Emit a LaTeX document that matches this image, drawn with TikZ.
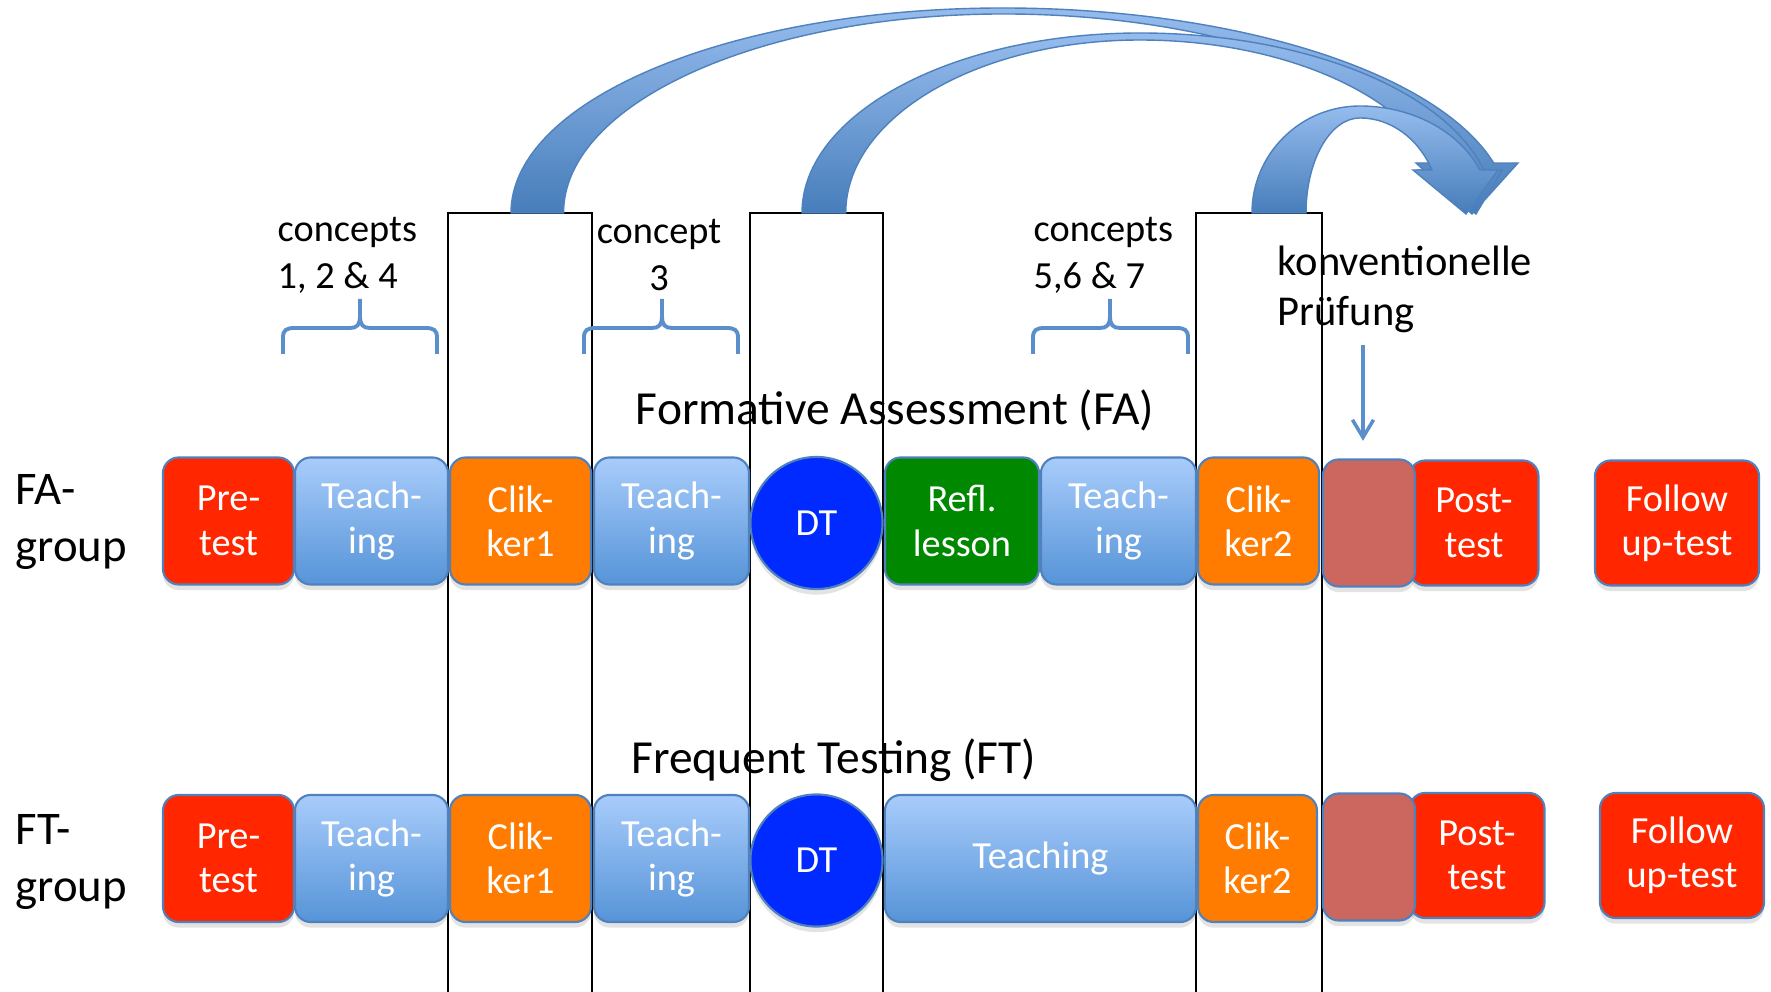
\documentclass[tikz,border=0pt]{standalone}
\usepackage{fontspec}
\setmainfont{Carlito}
\usetikzlibrary{arrows.meta,shadows}

\definecolor{pptred}{RGB}{255,38,0}
\definecolor{pptorange}{RGB}{255,124,0}
\definecolor{pptgreen}{RGB}{0,136,0}
\definecolor{pptdt}{RGB}{0,42,255}
\definecolor{pptbrown}{RGB}{204,103,96}
\definecolor{pptline}{RGB}{79,129,189}
\definecolor{teachtop}{RGB}{168,204,251}
\definecolor{teachbot}{RGB}{86,148,216}
\definecolor{arctop}{RGB}{150,188,238}
\definecolor{arcbot}{RGB}{70,125,186}
\definecolor{bracecol}{RGB}{91,143,201}

\begin{document}
\begin{tikzpicture}[x=0.01cm, y=-0.01cm,
    box/.style={draw=pptline, line width=0.6pt, rounded corners=4.5pt,
        minimum height=1.27cm, inner sep=1pt, text=white, align=center,
        font=\fontsize{10.9}{12.6}\selectfont,
        drop shadow={shadow xshift=0pt, shadow yshift=-1.6pt, opacity=0.22}},
    redbox/.style={box, fill=pptred},
    clikbox/.style={box, fill=pptorange},
    reflbox/.style={box, fill=pptgreen},
    brownbox/.style={box, fill=pptbrown},
    teachbox/.style={box, top color=teachtop, bottom color=teachbot},
    dtnode/.style={box, circle, fill=pptdt, minimum size=1.32cm},
    grouplabel/.style={anchor=west, align=left, inner sep=0pt,
        font=\fontsize{13.3}{16.2}\selectfont},
    phase/.style={inner sep=0pt, font=\fontsize{13.5}{16}\selectfont},
    concepts/.style={inner sep=0pt, font=\fontsize{10.9}{13.3}\selectfont},
    frame/.style={draw=black, line width=0.5pt},
    brace/.style={draw=bracecol, line width=1.1pt},
    bigarc/.style={draw=pptline, line width=0.4pt, top color=arctop, bottom color=arcbot},
    smallarrow/.style={draw=bracecol, line width=1pt, -{Straight Barb[length=5pt,width=6pt]}}
]
    \useasboundingbox (0,0) rectangle (1771,992);

    % clicker / DT columns
    \draw[frame] (448,992) |- (592,213) -- (592,992);
    \draw[frame] (750,992) |- (883,213) -- (883,992);
    \draw[frame] (1196,992) |- (1322,213) -- (1322,992);

    % curved arrows to the exam
    \path[bigarc] (511,213) arc[start angle=180, end angle=270, x radius=492, y radius=205]
        arc[start angle=270, end angle=345.9, x radius=506, y radius=205]
        -- (1518,163) -- (1472,214) -- (1416,163) -- (1442,163)
        arc[start angle=345.45, end angle=270, x radius=453, y radius=199]
        arc[start angle=270, end angle=180, x radius=440, y radius=199] -- cycle;
    \path[bigarc] (802,213) arc[start angle=180, end angle=270, x radius=338, y radius=180]
        arc[start angle=270, end angle=346.2, x radius=354, y radius=180]
        -- (1502,170) -- (1476,214) -- (1418,170) -- (1440,170)
        arc[start angle=345.6, end angle=270, x radius=310, y radius=173]
        arc[start angle=270, end angle=180, x radius=294, y radius=173] -- cycle;
    \path[bigarc] (1252,213) arc[start angle=180, end angle=270, x radius=108, y radius=107]
        arc[start angle=270, end angle=336.3, x radius=131, y radius=107]
        -- (1498,170) -- (1466,214) -- (1413,170) -- (1432,170)
        arc[start angle=333.1, end angle=270, x radius=80.7, y radius=95]
        arc[start angle=270, end angle=180, x radius=54, y radius=95] -- cycle;

    % braces
    \draw[brace] (283,354) -- (283,338) .. controls (283,330) and (286,328) .. (295,328) -- (350,328) .. controls (357,328) and (360,325) .. (360,316) -- (360,299);
    \draw[brace] (437,354) -- (437,338) .. controls (437,330) and (434,328) .. (425,328) -- (370,328) .. controls (363,328) and (360,325) .. (360,316);
    \draw[brace] (584,354) -- (584,338) .. controls (584,330) and (587,328) .. (596,328) -- (652,328) .. controls (659,328) and (662,325) .. (662,316) -- (662,299);
    \draw[brace] (738,354) -- (738,338) .. controls (738,330) and (735,328) .. (726,328) -- (672,328) .. controls (665,328) and (662,325) .. (662,316);
    \draw[brace] (1033,354) -- (1033,338) .. controls (1033,330) and (1036,328) .. (1045,328) -- (1100,328) .. controls (1107,328) and (1110,325) .. (1110,316) -- (1110,299);
    \draw[brace] (1188,354) -- (1188,338) .. controls (1188,330) and (1185,328) .. (1176,328) -- (1120,328) .. controls (1113,328) and (1110,325) .. (1110,316);

    \node[concepts, anchor=west, align=left] (c124) at (277,255) {concepts\\1, 2 \& 4};
    \node[concepts, align=center] (c3) at (659,255) {concept\\3};
    \node[concepts, anchor=west, align=left] (c567) at (1033,255) {concepts\\5,6 \& 7};
    \node[anchor=west, align=left, inner sep=0pt, font=\fontsize{12.1}{14.2}\selectfont] (konv) at (1277,289) {konventionelle\\Prüfung};

    \node[phase] (fatitle) at (895,410) {Formative Assessment (FA)};
    \node[phase] (fttitle) at (834,760) {Frequent Testing (FT)};

    \node[grouplabel] (fagroup) at (15,522) {FA-\\group};
    \node[grouplabel] (ftgroup) at (15,862) {FT-\\group};

    % FA row
    \node[redbox, minimum width=1.31cm] (pre1) at (228.5,521) {Pre-\\test};
    \node[teachbox, minimum width=1.53cm] (teach1a) at (371.5,521) {Teach-\\ing};
    \node[clikbox, minimum width=1.41cm] (clik1a) at (520.5,521) {Clik-\\ker1};
    \node[teachbox, minimum width=1.55cm] (teach1b) at (671.5,521) {Teach-\\ing};
    \node[dtnode] (dt1) at (816.5,523) {DT};
    \node[reflbox, minimum width=1.54cm] (refl1) at (962,521) {Refl.\\lesson};
    \node[teachbox, minimum width=1.55cm] (teach1c) at (1118.5,521) {Teach-\\ing};
    \node[clikbox, minimum width=1.21cm] (clik2a) at (1258.5,521) {Clik-\\ker2};
    \node[redbox, minimum width=1.29cm, minimum height=1.25cm] (post1) at (1474,523) {Post-\\test};
    \node[brownbox, minimum width=0.92cm] (exam1) at (1369,523) {};
    \node[redbox, minimum width=1.64cm, minimum height=1.25cm] (follow1) at (1677,523) {Follow\\up-test};

    % FT row
    \node[redbox, minimum width=1.31cm] (pre2) at (228.5,858.5) {Pre-\\test};
    \node[teachbox, minimum width=1.53cm] (teach2a) at (371.5,858.5) {Teach-\\ing};
    \node[clikbox, minimum width=1.41cm] (clik1b) at (520.5,858.5) {Clik-\\ker1};
    \node[teachbox, minimum width=1.55cm] (teach2b) at (671.5,858.5) {Teach-\\ing};
    \node[dtnode] (dt2) at (816.5,860.5) {DT};
    \node[teachbox, minimum width=3.11cm] (teach2c) at (1040.5,858.5) {Teaching};
    \node[clikbox, minimum width=1.19cm] (clik2b) at (1257.5,858.5) {Clik-\\ker2};
    \node[redbox, minimum width=1.35cm, minimum height=1.25cm] (post2) at (1477,855.5) {Post-\\test};
    \node[brownbox, minimum width=0.92cm] (exam2) at (1369,857) {};
    \node[redbox, minimum width=1.64cm, minimum height=1.25cm] (follow2) at (1682,855.5) {Follow\\up-test};

    \coordinate (pruef) at (1363,345);
    \draw[smallarrow, shorten >=5pt] (pruef) -- (pruef |- exam1.north);
\end{tikzpicture}
\end{document}
